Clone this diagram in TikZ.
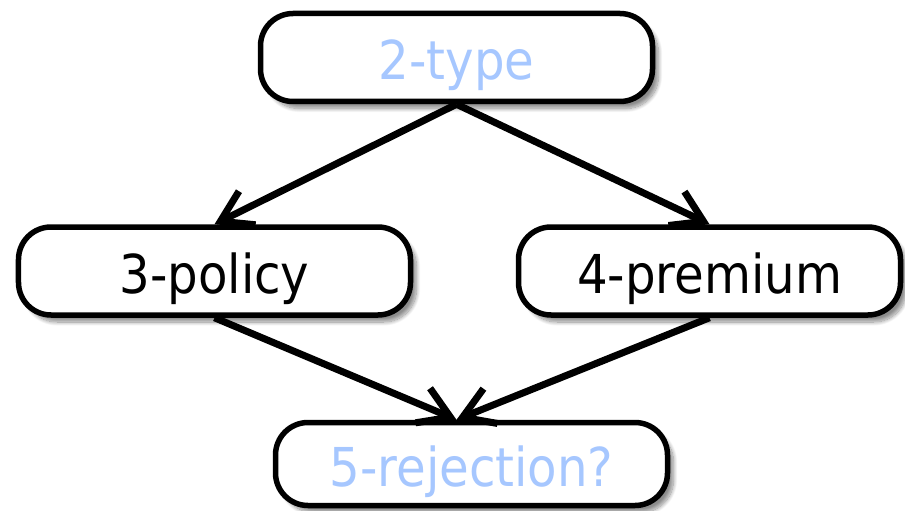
\documentclass[tikz,border=0pt]{standalone}
\usepackage{fontspec}
\setmainfont{DejaVu Sans Condensed}
\usepackage{tikz}
\usetikzlibrary{arrows.meta, shadows.blur}
\definecolor{lightblue}{RGB}{166,199,255}

\begin{document}
\begin{tikzpicture}[
    box/.style={draw, line width=0.11cm, rounded corners=0.65cm, fill=white,
      minimum width=7.84cm, minimum height=1.76cm,
      text height=0.88cm, text depth=0cm,
      font=\fontsize{30.5}{36}\selectfont,
      blur shadow={shadow xshift=0.12cm, shadow yshift=-0.14cm, shadow blur steps=12, shadow opacity=45}},
    link/.style={line width=0.14cm, -{Straight Barb[length=6mm, width=7.5mm]}}
  ]
  \useasboundingbox (0, 0) rectangle (18.1, -10.22);
  \node[box, text=lightblue] (type) at (9.13, -1.15) {2-type};
  \node[box] (policy) at (4.29, -5.42) {3-policy};
  \node[box, minimum width=7.64cm] (premium) at (14.19, -5.42) {4-premium};
  \node[box, text=lightblue, minimum height=1.66cm] (rejection) at (9.43, -9.28) {5-rejection?};

  \draw[link] (type.south) -- (policy.north);
  \draw[link] (type.south) -- (premium.north);
  \draw[link] (policy.south) -- (rejection.north -| type.south);
  \draw[link] (premium.south) -- (rejection.north -| type.south);
\end{tikzpicture}
\end{document}
